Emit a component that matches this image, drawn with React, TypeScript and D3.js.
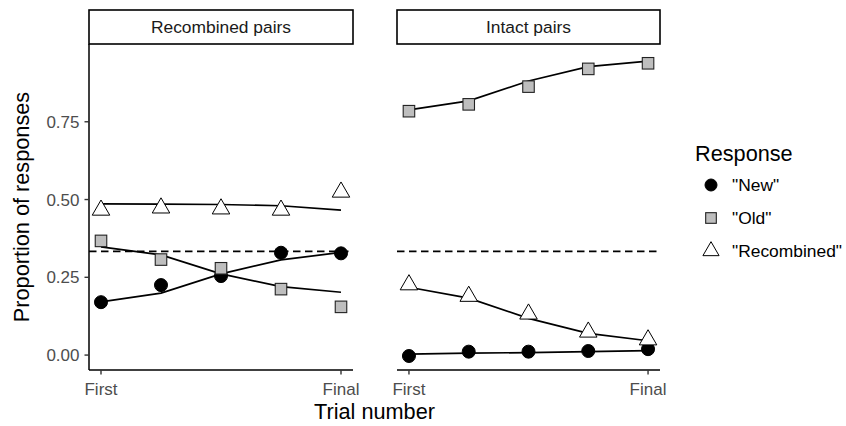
import React from "react";
import * as d3 from "d3";

const trials = [1, 2, 3, 4, 5];
const xTickValues = [1, 5];
const xTickLabels = ["First", "Final"];
const yTicks = [0, 0.25, 0.5, 0.75];
const chanceLevel = 1 / 3;
const panels = ["Recombined pairs", "Intact pairs"];
const responses = ['"New"', '"Old"', '"Recombined"'];

// Recombined pairs: observed
const recNewObs = [0.170, 0.225, 0.254, 0.329, 0.327];
const recOldObs = [0.367, 0.307, 0.279, 0.212, 0.155];
const recRecObs = [0.466, 0.473, 0.470, 0.466, 0.524];
// Recombined pairs: fitted
const recNewFit = [0.171, 0.199, 0.261, 0.306, 0.330];
const recOldFit = [0.348, 0.322, 0.261, 0.220, 0.202];
const recRecFit = [0.486, 0.485, 0.484, 0.480, 0.466];

// Intact pairs: observed
const intNewObs = [-0.003, 0.011, 0.011, 0.013, 0.019];
const intOldObs = [0.784, 0.806, 0.863, 0.920, 0.938];
const intRecObs = [0.226, 0.189, 0.132, 0.074, 0.049];
// Intact pairs: fitted
const intNewFit = [0.003, 0.006, 0.008, 0.011, 0.014];
const intOldFit = [0.788, 0.817, 0.881, 0.927, 0.945];
const intRecFit = [0.218, 0.183, 0.118, 0.070, 0.046];

const obsByPanel = [
  [recNewObs, recOldObs, recRecObs],
  [intNewObs, intOldObs, intRecObs],
];
const fitByPanel = [
  [recNewFit, recOldFit, recRecFit],
  [intNewFit, intOldFit, intRecFit],
];

const FONT = "'Liberation Sans', Arial, sans-serif";
const W = 846;
const H = 426;
const panelX = [
  [89, 353],
  [397, 660],
];
const panelTop = 44;
const panelBottom = 370;
const stripTop = 10;

const y = d3.scaleLinear().domain([-0.048, 1.0]).range([panelBottom, panelTop]);
const fmt = d3.format(".2f");

function Marker({ kind, x, yy, s }: { kind: number; x: number; yy: number; s: number }) {
  if (kind === 0) {
    return <circle cx={x} cy={yy} r={s} fill="#000" stroke="#000" strokeWidth={1} />;
  }
  if (kind === 1) {
    const side = 1.772 * s;
    return (
      <rect x={x - side / 2} y={yy - side / 2} width={side} height={side} fill="#BEBEBE" stroke="#222" strokeWidth={1.1} />
    );
  }
  const r = 1.555 * s;
  const h = 1.347 * s;
  const yc = 0.778 * s;
  const pts = [
    [x, yy - r],
    [x + h, yy + yc],
    [x - h, yy + yc],
  ];
  return <polygon points={pts.map((p) => p.join(",")).join(" ")} fill="#fff" stroke="#000" strokeWidth={1} />;
}

export default function App() {
  const line = (xs: d3.ScaleLinear<number, number>) =>
    d3
      .line<number>()
      .x((_, i) => xs(trials[i]))
      .y((d) => y(d));

  return (
    <svg width={W} height={H} style={{ position: "absolute", left: 0, top: 0, background: "#fff" }} fontFamily={FONT}>
      <rect width={W} height={H} fill="#fff" />
      {panels.map((name, pi) => {
        const [x0, x1] = panelX[pi];
        const xs = d3.scaleLinear().domain([0.8, 5.2]).range([x0, x1]);
        const lg = line(xs);
        return (
          <g key={name}>
            {/* strip */}
            <rect x={x0} y={stripTop} width={x1 - x0} height={panelTop - stripTop} fill="#fff" stroke="#000" strokeWidth={1.6} />
            <text x={(x0 + x1) / 2} y={(stripTop + panelTop) / 2 + 6} textAnchor="middle" fontSize={17.4} fill="#1A1A1A">
              {name}
            </text>
            {/* chance line */}
            <line x1={x0} x2={x1} y1={y(chanceLevel)} y2={y(chanceLevel)} stroke="#000" strokeWidth={1.6} strokeDasharray="7.5,4.5" />
            {/* fitted lines */}
            {fitByPanel[pi].map((vals, si) => (
              <path key={"l" + si} d={lg(vals) || ""} fill="none" stroke="#000" strokeWidth={1.7} />
            ))}
            {/* observed points */}
            {obsByPanel[pi].map((vals, si) =>
              vals.map((v, i) => <Marker key={`p${si}-${i}`} kind={si} x={xs(trials[i])} yy={y(v)} s={6.5} />)
            )}
            {/* x axis */}
            <line x1={x0} x2={x1} y1={panelBottom} y2={panelBottom} stroke="#000" strokeWidth={1.5} />
            {xTickValues.map((t, i) => (
              <g key={"xt" + i}>
                <line x1={xs(t)} x2={xs(t)} y1={panelBottom} y2={panelBottom + 4.5} stroke="#333" strokeWidth={1.4} />
                <text x={xs(t)} y={panelBottom + 25} textAnchor="middle" fontSize={17} fill="#4D4D4D">
                  {xTickLabels[i]}
                </text>
              </g>
            ))}
            {/* y axis only on first panel */}
            {pi === 0 && (
              <g>
                <line x1={x0} x2={x0} y1={panelTop} y2={panelBottom} stroke="#000" strokeWidth={1.5} />
                {yTicks.map((t) => (
                  <g key={"yt" + t}>
                    <line x1={x0 - 4.5} x2={x0} y1={y(t)} y2={y(t)} stroke="#333" strokeWidth={1.4} />
                    <text x={x0 - 9.5} y={y(t) + 6} textAnchor="end" fontSize={17} fill="#4D4D4D">
                      {fmt(t)}
                    </text>
                  </g>
                ))}
              </g>
            )}
          </g>
        );
      })}
      {/* axis titles */}
      <text x={(panelX[0][0] + panelX[1][1]) / 2} y={419} textAnchor="middle" fontSize={21.7} fill="#000">
        Trial number
      </text>
      <text
        transform={`translate(29,${(panelTop + panelBottom) / 2}) rotate(-90)`}
        textAnchor="middle"
        fontSize={21.7}
        fill="#000"
      >
        Proportion of responses
      </text>
      {/* legend */}
      <text x={695} y={161} fontSize={21.7} fill="#000">
        Response
      </text>
      {responses.map((r, i) => {
        const cy = 185 + i * 33;
        return (
          <g key={r}>
            <Marker kind={i} x={711} yy={cy} s={6} />
            <text x={732} y={cy + 6} fontSize={17.4} fill="#000">
              {r}
            </text>
          </g>
        );
      })}
    </svg>
  );
}
